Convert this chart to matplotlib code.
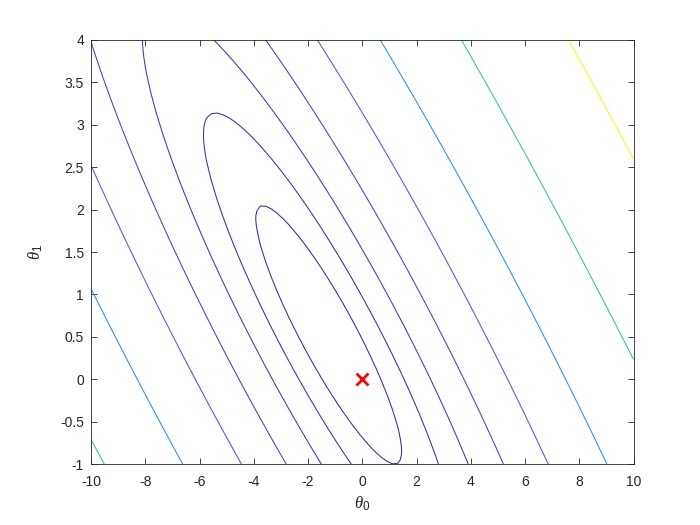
import numpy as np
import matplotlib
matplotlib.use("Agg")
import matplotlib.pyplot as plt
from matplotlib.colors import ListedColormap, Normalize
from matplotlib.ticker import FormatStrFormatter

# ---- data ----
theta0_range = [-10, 10]
theta1_range = [-1, 4]
# quadratic cost surface J(t0,t1) = A*u^2 + 2*B*u*v + C*v^2 + Jmin, u=t0-c0, v=t1-c1
cost_A = 4.63
cost_B = 7.40
cost_C = 14.48
cost_center = [-1.234, 0.523]
cost_min = 8.22
# contour levels (logspace(-2, 3, 20))
levels = [0.01, 0.01833, 0.03360, 0.06158, 0.1129, 0.2069, 0.3793, 0.6952,
          1.274, 2.336, 4.281, 7.848, 14.38, 26.37, 48.33, 88.59,
          162.4, 297.6, 545.6, 1000.0]
marker_theta0 = [0.0]
marker_theta1 = [0.0]
xticks = [-10, -8, -6, -4, -2, 0, 2, 4, 6, 8, 10]
yticks = [-1, -0.5, 0, 0.5, 1, 1.5, 2, 2.5, 3, 3.5, 4]

# ---- parula colormap (64 entries) ----
parula_rows = [
    (0.2422, 0.1504, 0.6603), (0.2504, 0.1650, 0.7076), (0.2578, 0.1818, 0.7511),
    (0.2647, 0.1978, 0.7952), (0.2706, 0.2147, 0.8364), (0.2751, 0.2342, 0.8710),
    (0.2783, 0.2559, 0.8991), (0.2803, 0.2782, 0.9221), (0.2813, 0.3006, 0.9414),
    (0.2810, 0.3228, 0.9579), (0.2795, 0.3447, 0.9717), (0.2760, 0.3667, 0.9829),
    (0.2699, 0.3892, 0.9906), (0.2602, 0.4123, 0.9952), (0.2440, 0.4358, 0.9988),
    (0.2206, 0.4603, 0.9973), (0.1963, 0.4847, 0.9892), (0.1834, 0.5074, 0.9798),
    (0.1786, 0.5289, 0.9682), (0.1764, 0.5499, 0.9520), (0.1687, 0.5703, 0.9359),
    (0.1540, 0.5902, 0.9218), (0.1460, 0.6091, 0.9079), (0.1380, 0.6276, 0.8973),
    (0.1248, 0.6459, 0.8883), (0.1113, 0.6635, 0.8763), (0.0952, 0.6798, 0.8598),
    (0.0689, 0.6948, 0.8394), (0.0297, 0.7082, 0.8163), (0.0036, 0.7203, 0.7917),
    (0.0067, 0.7312, 0.7660), (0.0433, 0.7411, 0.7394), (0.0964, 0.7500, 0.7120),
    (0.1408, 0.7584, 0.6842), (0.1717, 0.7670, 0.6554), (0.1938, 0.7758, 0.6251),
    (0.2161, 0.7843, 0.5923), (0.2470, 0.7918, 0.5567), (0.2906, 0.7973, 0.5188),
    (0.3406, 0.8008, 0.4789), (0.3909, 0.8029, 0.4354), (0.4456, 0.8024, 0.3909),
    (0.5044, 0.7993, 0.3480), (0.5616, 0.7942, 0.3045), (0.6174, 0.7876, 0.2612),
    (0.6720, 0.7793, 0.2227), (0.7242, 0.7698, 0.1910), (0.7738, 0.7598, 0.1646),
    (0.8203, 0.7498, 0.1535), (0.8634, 0.7406, 0.1596), (0.9035, 0.7330, 0.1774),
    (0.9393, 0.7288, 0.2100), (0.9728, 0.7298, 0.2394), (0.9956, 0.7434, 0.2371),
    (0.9970, 0.7659, 0.2199), (0.9952, 0.7893, 0.2028), (0.9892, 0.8136, 0.1885),
    (0.9786, 0.8386, 0.1766), (0.9676, 0.8639, 0.1643), (0.9610, 0.8890, 0.1537),
    (0.9597, 0.9135, 0.1423), (0.9628, 0.9373, 0.1265), (0.9691, 0.9606, 0.1064),
    (0.9769, 0.9839, 0.0805),
]
parula = ListedColormap(parula_rows, name="parula")

plt.rcParams['font.family'] = ['Liberation Sans', 'DejaVu Sans']
plt.rcParams['axes.unicode_minus'] = False
plt.rcParams['mathtext.fontset'] = 'custom'
plt.rcParams['mathtext.it'] = 'Liberation Serif:italic'
plt.rcParams['mathtext.rm'] = 'Liberation Sans'

fig = plt.figure(figsize=(7.0, 5.25), dpi=100)
fig.patch.set_facecolor('white')
ax = fig.add_axes([0.13, 0.116, 0.775, 0.808])

t0 = np.linspace(theta0_range[0], theta0_range[1], 100)
t1 = np.linspace(theta1_range[0], theta1_range[1], 100)
T0, T1 = np.meshgrid(t0, t1)
U = T0 - cost_center[0]
V = T1 - cost_center[1]
J = cost_A * U**2 + 2 * cost_B * U * V + cost_C * V**2 + cost_min

ax.contour(T0, T1, J, levels=levels, cmap=parula,
           norm=Normalize(vmin=levels[0], vmax=levels[-1]), linewidths=0.75)
ax.plot(marker_theta0, marker_theta1, 'x', color='red', ms=9, mew=2)

ax.set_xlim(theta0_range)
ax.set_ylim(theta1_range)
ax.set_xticks(xticks)
ax.set_yticks(yticks)
ax.yaxis.set_major_formatter(FormatStrFormatter('%g'))
ax.xaxis.set_major_formatter(FormatStrFormatter('%g'))
dark = (0.15, 0.15, 0.15)
ax.tick_params(direction='in', length=4, width=0.6, top=True, right=True,
               labelsize=10, colors=dark)
ax.tick_params(axis='x', pad=8)
ax.tick_params(axis='y', pad=5)
for s in ax.spines.values():
    s.set_color(dark)
    s.set_linewidth(0.6)
ax.set_xlabel(r'$\theta_0$', fontsize=12, color=dark, labelpad=4)
ax.set_ylabel(r'$\theta_1$', fontsize=12, color=dark, labelpad=11)

fig.savefig('out.png', dpi=100, facecolor='white')
